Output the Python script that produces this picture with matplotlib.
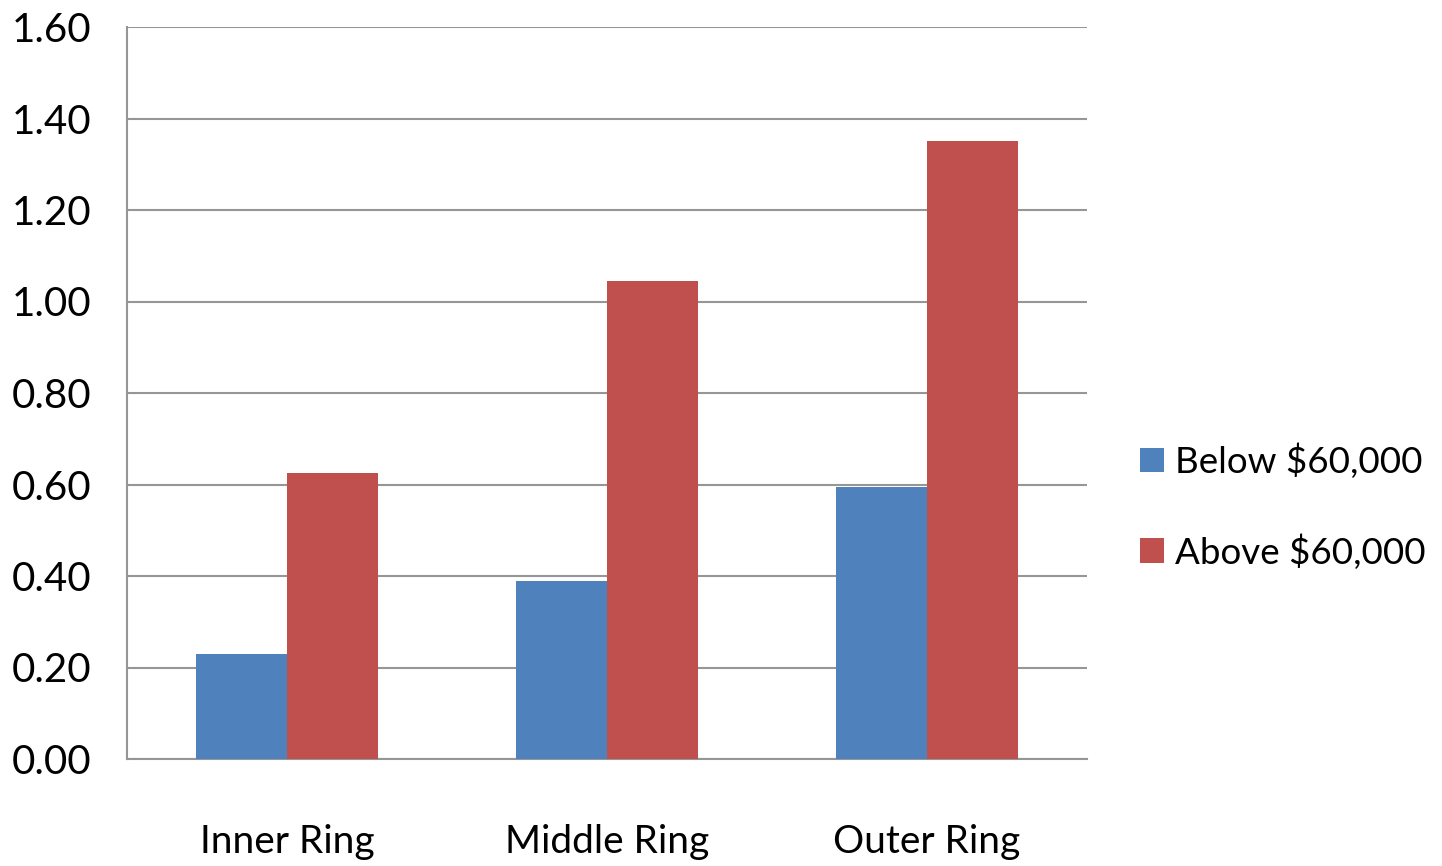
import numpy as np
import matplotlib.pyplot as plt

# ring-level values by income group
rings = ["Inner Ring", "Middle Ring", "Outer Ring"]
below_60k = [0.23, 0.39, 0.595]
above_60k = [0.625, 1.045, 1.35]
yticks = [0.0, 0.2, 0.4, 0.6, 0.8, 1.0, 1.2, 1.4, 1.6]

plt.rcParams['font.family'] = ['Lato', 'DejaVu Sans']

fig = plt.figure(figsize=(14.42, 8.66), dpi=100)
ax = fig.add_axes([127 / 1442, 1 - 759 / 866, 960 / 1442, 732 / 866])

x = np.arange(len(rings))
w = 0.285
ax.bar(x - w / 2, below_60k, w, color="#4F81BD", label="Below $60,000", zorder=3)
ax.bar(x + w / 2, above_60k, w, color="#C0504D", label="Above $60,000", zorder=3)

ax.set_xlim(-0.5, 2.5)
ax.set_ylim(0, 1.6)
ax.set_yticks(yticks)
ax.set_yticklabels([f"{v:.2f}" for v in yticks], fontsize=29)
ax.set_xticks(x)
ax.set_xticklabels(rings, fontsize=28)
ax.tick_params(axis="y", length=0, pad=26)
ax.tick_params(axis="x", length=0, pad=47)
ax.grid(axis="y", color="#969696", linewidth=1.5, zorder=0)

for side in ["top", "right"]:
    ax.spines[side].set_visible(False)
for side in ["left", "bottom"]:
    ax.spines[side].set_color("#969696")
    ax.spines[side].set_linewidth(1.5)

ax.legend(loc="center left", bbox_to_anchor=(1.04, 0.345), frameon=False,
          fontsize=26.5, handlelength=0.65, handleheight=0.65, handletextpad=0.3,
          labelspacing=1.5, borderaxespad=0)

fig.savefig("out.png", dpi=100)
